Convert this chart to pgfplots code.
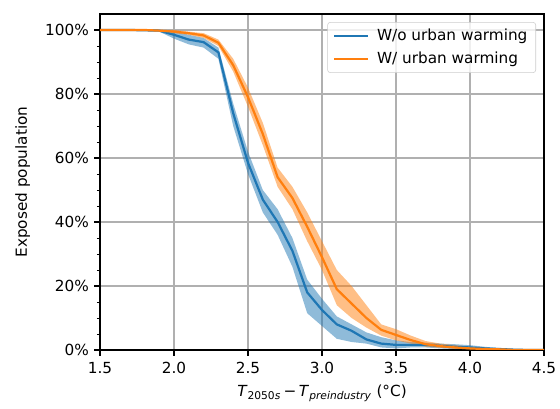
\documentclass[border=0pt]{standalone}
\usepackage{fontspec}
\setmainfont{DejaVu Sans}
\usepackage{pgfplots}
\usepackage{pgfplotstable}
\pgfplotsset{compat=1.18}
\usepgfplotslibrary{fillbetween}
\definecolor{c0}{HTML}{1F77B4}
\definecolor{c1}{HTML}{FF7F0E}
\definecolor{gridc}{HTML}{B0B0B0}
\definecolor{legc}{HTML}{CCCCCC}

\pgfplotstableread{
x    y     lo    hi
1.5  100   100   100
1.6  100   100   100
1.7  100   100   100
1.8  99.9  99.8  100
1.9  99.8  99.5  100
2.0  98.5  97.3  99.5
2.1  97.0  95.5  98.5
2.2  96.2  94.5  97.5
2.3  93.0  91.0  94.5
2.4  74.0  70.0  77.0
2.5  58.5  55.0  62.0
2.6  47.0  43.0  50.0
2.7  40.0  36.0  44.0
2.8  31.0  26.0  35.0
2.9  18.0  11.5  22.0
3.0  12.5  7.5   16.0
3.1  8.0   3.5   10.5
3.2  6.0   2.5   8.0
3.3  3.3   2.0   5.5
3.4  2.0   0.8   4.0
3.5  1.6   0.5   3.0
3.6  1.6   0.8   2.5
3.7  1.6   0.8   2.3
3.8  1.3   0.5   2.0
3.9  1.0   0.3   1.8
4.0  0.8   0.2   1.5
4.1  0.5   0.1   1.0
4.2  0.3   0.0   0.6
4.3  0.1   0.0   0.3
4.4  0.0   0.0   0.0
4.5  0.0   0.0   0.0
}\tblue

\pgfplotstableread{
x    y     lo    hi
1.5  100   100   100
1.6  100   100   100
1.7  100   100   100
1.8  100   99.9  100
1.9  99.8  99.6  100
2.0  99.5  99.0  100
2.1  99.0  98.5  99.5
2.2  98.3  97.5  99.0
2.3  96.0  95.0  97.0
2.4  89.0  87.0  91.0
2.5  79.0  76.0  82.0
2.6  67.5  64.0  71.0
2.7  54.0  51.0  57.0
2.8  47.5  44.0  51.0
2.9  38.5  34.0  43.0
3.0  29.0  25.0  34.0
3.1  19.0  14.0  25.0
3.2  14.5  10.0  20.0
3.3  10.0  7.0   14.0
3.4  6.3   4.5   8.0
3.5  4.7   3.0   6.5
3.6  3.1   2.0   4.5
3.7  1.8   1.0   2.8
3.8  1.2   0.7   2.0
3.9  0.8   0.4   1.5
4.0  0.5   0.2   1.0
4.1  0.3   0.1   0.7
4.2  0.2   0.0   0.4
4.3  0.0   0.0   0.1
4.4  0.0   0.0   0.0
4.5  0.0   0.0   0.0
}\torange

\begin{document}
\begin{tikzpicture}
\begin{axis}[
  scale only axis,
  width=319.68pt, height=241.92pt,
  xmin=1.5, xmax=4.5, ymin=0, ymax=105,
  xtick={1.5,2.0,2.5,3.0,3.5,4.0,4.5},
  ytick={0,20,40,60,80,100},
  minor y tick num=3,
  xticklabel style={/pgf/number format/fixed,/pgf/number format/fixed zerofill,/pgf/number format/precision=1, yshift=-1.5pt},
  yticklabel style={xshift=-0.5pt},
  yticklabel={\pgfmathprintnumber{\tick}\%},
  /pgf/number format/assume math mode=true,
  tick align=outside,
  xtick pos=bottom, ytick pos=left,
  major tick length=4pt, minor tick length=2.3pt,
  every tick/.style={black, line width=0.85pt},
  minor tick style={line width=0.65pt},
  grid=major,
  major grid style={gridc, line width=0.85pt},
  axis line style={line width=0.85pt},
  tick label style={font=\fontsize{11}{13}\selectfont},
  label style={font=\fontsize{11}{13}\selectfont},
  xlabel={\textit{T}\textsubscript{2050\textit{s}}\,−\,\textit{T}\textsubscript{\textit{preindustry}} (°C)},
  xlabel style={yshift=-1pt},
  ylabel={Exposed population},
  ylabel style={yshift=4pt},
  no marks,
  legend cell align=left,
  legend style={at={(0.982,0.976)}, anchor=north east, draw=legc, rounded corners=2pt,
    fill=white, fill opacity=0.8, text opacity=1, font=\fontsize{11}{13}\selectfont,
    inner xsep=4pt, inner ysep=3pt, row sep=2.5pt},
  legend image code/.code={\draw[#1] (0pt,0pt) -- (24.5pt,0pt); \path (28pt,0pt);},
]
\coordinate (O) at (rel axis cs:0,0);
\addplot[draw=none, name path=blo, forget plot] table[x=x,y=lo]{\tblue};
\addplot[draw=none, name path=bhi, forget plot] table[x=x,y=hi]{\tblue};
\addplot[fill=c0, fill opacity=0.5, draw=none, forget plot] fill between[of=blo and bhi];
\addplot[c0, line width=1.6pt] table[x=x,y=y]{\tblue};
\addlegendentry{W/o urban warming}
\addplot[draw=none, name path=olo, forget plot] table[x=x,y=lo]{\torange};
\addplot[draw=none, name path=ohi, forget plot] table[x=x,y=hi]{\torange};
\addplot[fill=c1, fill opacity=0.5, draw=none, forget plot] fill between[of=olo and ohi];
\addplot[c1, line width=1.6pt] table[x=x,y=y]{\torange};
\addlegendentry{W/ urban warming}
\end{axis}
\pgfresetboundingbox
\useasboundingbox (O) ++(-72pt,-41.76pt) rectangle ++(403.2pt,293.76pt);
\end{tikzpicture}
\end{document}
